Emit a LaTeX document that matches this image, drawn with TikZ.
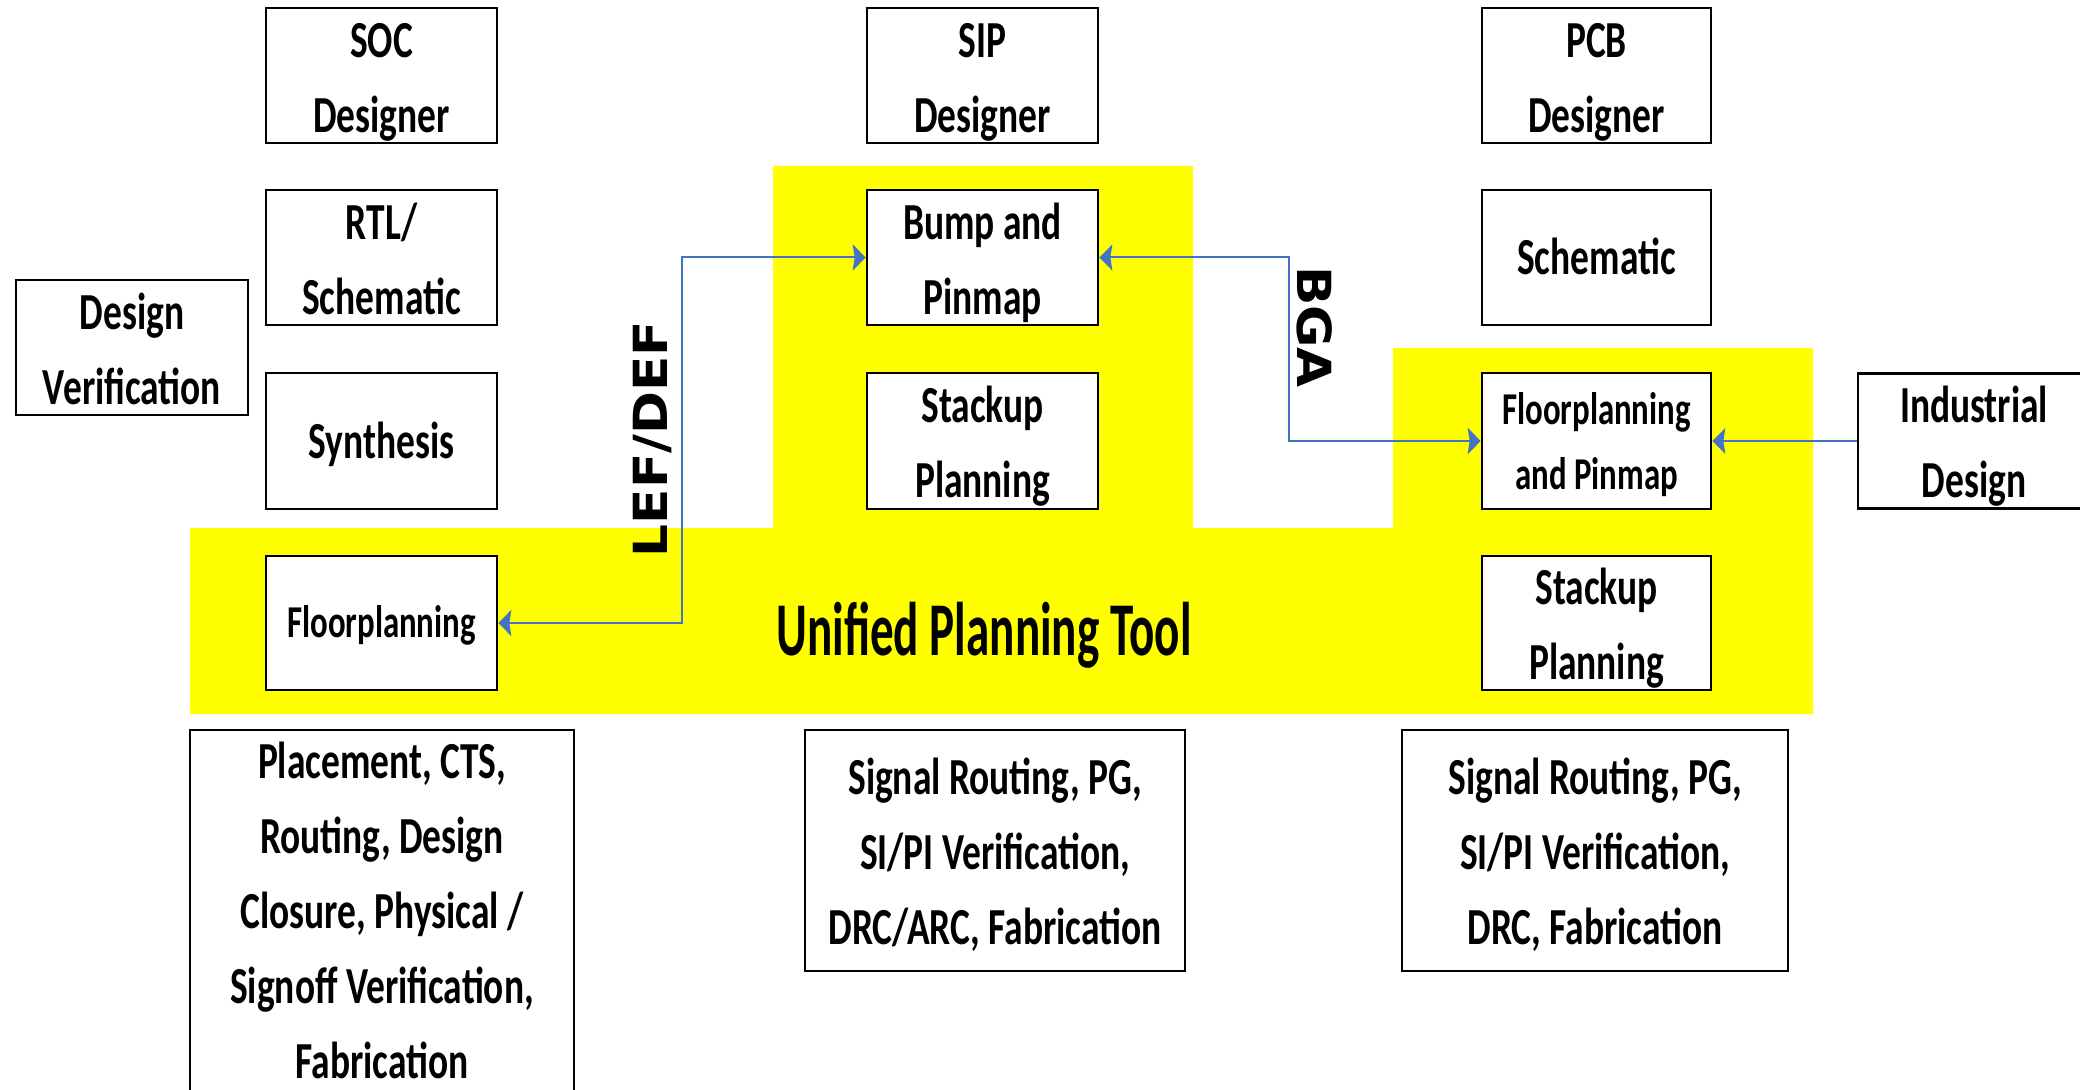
\documentclass[tikz,border=0pt]{standalone}
\usepackage{fontspec}
\usetikzlibrary{arrows.meta}
\newfontfamily\boxfont{Carlito}[FakeStretch=0.72]
\newfontfamily\titlefont{Carlito}[FakeStretch=0.62]
\newfontfamily\tagfont{DejaVu Sans}[FakeStretch=1.1]
\definecolor{hilite}{HTML}{FFFF00}
\definecolor{linkblue}{HTML}{4472C4}
\begin{document}
\begin{tikzpicture}[x=0.5pt,y=-0.5pt,
  sz/.style 2 args={minimum width=#1*0.5pt, minimum height=#2*0.5pt},
  % fixed text box extents so the lettering sits centred in its box
  one/.style={text height=25.4pt, text depth=8pt},
  two/.style={text height=60.9pt, text depth=4pt},
  three/.style={text height=102.4pt, text depth=8pt},
  five/.style={text height=169.4pt, text depth=4pt},
  blk/.style={draw=black, line width=1.3pt, fill=white, inner sep=0pt,
    align=center, font=\boxfont\bfseries\fontsize{26}{37.5}\selectfont},
  smallblk/.style={blk, font=\boxfont\bfseries\fontsize{22.8}{32.5}\selectfont},
  smallone/.style={text height=22.4pt, text depth=8pt},
  smalltwo/.style={text height=56.4pt, text depth=8pt},
  tag/.style={font=\tagfont\bfseries\fontsize{23.5}{25}\selectfont, inner sep=0pt},
  wire/.style={draw=linkblue, line width=1pt},
  linkhead/.tip={Stealth[length=6.5pt, width=13pt, inset=1pt]}]

\useasboundingbox (0,0) rectangle (2080,1090);
\clip (0,0) rectangle (2080,1090);
\fill[white] (0,0) rectangle (2080,1090);

% highlighted planning area
\fill[hilite] (190,528) -- (773,528) -- (773,166) -- (1193,166) -- (1193,528)
  -- (1393,528) -- (1393,348) -- (1813,348) -- (1813,714) -- (190,714) -- cycle;

% SOC column
\node[blk, two, sz={231}{135}] (soc) at (381.5,75.5) {SOC\\Designer};
\node[blk, two, sz={231}{135}] (rtl) at (381.5,257.5) {RTL/\\Schematic};
\node[blk, one, sz={231}{136}] (syn) at (381.5,441) {Synthesis};
\node[smallblk, smallone, sz={231}{134}] (fp) at (381.5,623) {Floorplanning};
\node[blk, two, sz={232}{135}] (dv) at (132,347.5) {Design\\Verification};

% SIP column
\node[blk, two, sz={231}{135}] (sip) at (982.5,75.5) {SIP\\Designer};
\node[blk, two, sz={231}{135}] (bump) at (982.5,257.5) {Bump and\\Pinmap};
\node[blk, two, sz={231}{136}] (stk) at (982.5,441) {Stackup\\Planning};

% PCB column
\node[blk, two, sz={229}{135}] (pcb) at (1596.5,75.5) {PCB\\Designer};
\node[blk, one, sz={229}{135}] (sch) at (1596.5,257.5) {Schematic};
\node[smallblk, smalltwo, sz={229}{136}] (fpp) at (1596.5,441) {Floorplanning\\and Pinmap};
\node[blk, two, sz={229}{134}] (stkp) at (1596.5,623) {Stackup\\Planning};
\node[blk, two, sz={232}{135}] (ind) at (1974,441) {Industrial\\Design};

% implementation steps
\node[blk, five, sz={384}{366}] (impl) at (382,913)
  {Placement, CTS,\\Routing, Design\\Closure, Physical /\\Signoff Verification,\\Fabrication};
\node[blk, three, sz={380}{241}] (sipimpl) at (995,850.5)
  {Signal Routing, PG,\\SI/PI Verification,\\DRC/ARC, Fabrication};
\node[blk, three, sz={386}{241}] (pcbimpl) at (1595,850.5)
  {Signal Routing, PG,\\SI/PI Verification,\\DRC, Fabrication};

% tool name
\node[font=\titlefont\bfseries\fontsize{38}{40}\selectfont, anchor=base, inner sep=0pt]
  (upt) at (984,655) {Unified Planning Tool};

% data exchange links
\coordinate (lx) at (682,0);
\coordinate (bx) at (1289,0);
\draw[wire, linkhead-linkhead] (fp.east) -- (fp.east -| lx) -- (lx |- bump.west) -- (bump.west);
\draw[wire, linkhead-linkhead] (bump.east) -- (bump.east -| bx) -- (bx |- fpp.west) -- (fpp.west);
\draw[wire, -linkhead] (ind.west) -- (fpp.east);

\node[tag, rotate=90] (lef) at (653,439) {LEF/DEF};
\node[tag, rotate=-90] (bga) at (1315,327) {BGA};
\end{tikzpicture}
\end{document}
